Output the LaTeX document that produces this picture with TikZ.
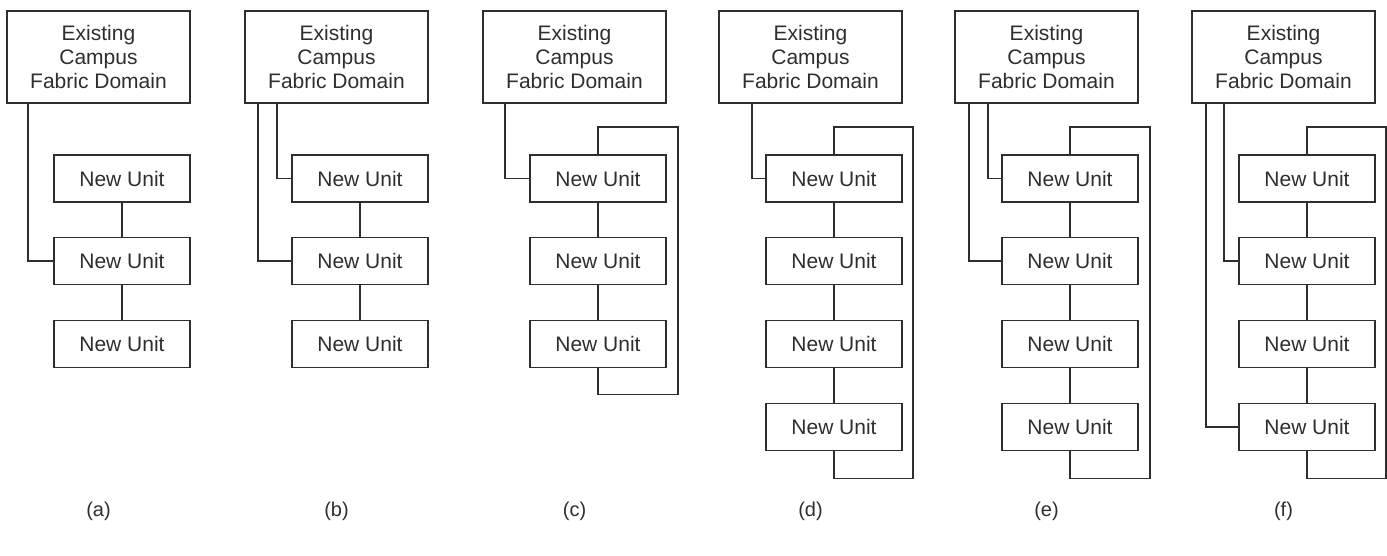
\documentclass[tikz,border=0pt]{standalone}
\usepackage{fontspec}
\setmainfont{Liberation Sans}
\usepackage{tikz}
\definecolor{ink}{HTML}{2E2E2E}

\begin{document}
\begin{tikzpicture}[x=1pt,y=-1pt,line width=1.8pt,color=ink,
  domain box/.style={rectangle,draw,minimum width=183pt,minimum height=92pt,
    inner sep=0pt,align=center,font=\fontsize{21}{23.7}\selectfont},
  unit box/.style={rectangle,draw,minimum width=136pt,minimum height=47pt,
    inner sep=0pt,font=\fontsize{21}{24}\selectfont},
  caption/.style={font=\fontsize{20}{24}\selectfont}]

  \useasboundingbox (0,0) rectangle (1387,556);

  % (a)
  \node[domain box] (Ta) at (98.5,57) {Existing\\Campus\\Fabric Domain};
  \node[unit box] (a1) at (122,178.5) {New Unit};
  \node[unit box] (a2) at (122,261) {New Unit};
  \node[unit box] (a3) at (122,344) {New Unit};
  \node[caption] (La) at (98.5,511) {(a)};
  \draw (a1) -- (a2) (a2) -- (a3);
  \draw ([xshift=21.5pt]Ta.south west) |- (a2.west);

  % (b)
  \node[domain box] (Tb) at (336.5,57) {Existing\\Campus\\Fabric Domain};
  \node[unit box] (b1) at (360,178.5) {New Unit};
  \node[unit box] (b2) at (360,261) {New Unit};
  \node[unit box] (b3) at (360,344) {New Unit};
  \node[caption] (Lb) at (336.5,511) {(b)};
  \draw (b1) -- (b2) (b2) -- (b3);
  \draw ([xshift=13.5pt]Tb.south west) |- (b2.west);
  \draw ([xshift=32.5pt]Tb.south west) |- (b1.west);

  % (c)
  \node[domain box] (Tc) at (574.5,57) {Existing\\Campus\\Fabric Domain};
  \node[unit box] (c1) at (598,178.5) {New Unit};
  \node[unit box] (c2) at (598,261) {New Unit};
  \node[unit box] (c3) at (598,344) {New Unit};
  \node[caption] (Lc) at (574.5,511) {(c)};
  \draw (c1) -- (c2) (c2) -- (c3);
  \draw ([xshift=22.5pt]Tc.south west) |- (c1.west);
  \draw (c1.north) -- ++(0,27pt) -| ([shift={(11pt,-26pt)}]c3.south east) -| (c3.south);

  % (d)
  \node[domain box] (Td) at (810.5,57) {Existing\\Campus\\Fabric Domain};
  \node[unit box] (d1) at (834,178.5) {New Unit};
  \node[unit box] (d2) at (834,261) {New Unit};
  \node[unit box] (d3) at (834,344) {New Unit};
  \node[unit box] (d4) at (834,427) {New Unit};
  \node[caption] (Ld) at (810.5,511) {(d)};
  \draw (d1) -- (d2) (d2) -- (d3) (d3) -- (d4);
  \draw ([xshift=33.5pt]Td.south west) |- (d1.west);
  \draw (d1.north) -- ++(0,27pt) -| ([shift={(10pt,-27pt)}]d4.south east) -| (d4.south);

  % (e)
  \node[domain box] (Te) at (1046.5,57) {Existing\\Campus\\Fabric Domain};
  \node[unit box] (e1) at (1070,178.5) {New Unit};
  \node[unit box] (e2) at (1070,261) {New Unit};
  \node[unit box] (e3) at (1070,344) {New Unit};
  \node[unit box] (e4) at (1070,427) {New Unit};
  \node[caption] (Le) at (1046.5,511) {(e)};
  \draw (e1) -- (e2) (e2) -- (e3) (e3) -- (e4);
  \draw ([xshift=14.5pt]Te.south west) |- (e2.west);
  \draw ([xshift=33.5pt]Te.south west) |- (e1.west);
  \draw (e1.north) -- ++(0,27pt) -| ([shift={(11pt,-27pt)}]e4.south east) -| (e4.south);

  % (f)
  \node[domain box] (Tf) at (1283.5,57) {Existing\\Campus\\Fabric Domain};
  \node[unit box] (f1) at (1307,178.5) {New Unit};
  \node[unit box] (f2) at (1307,261) {New Unit};
  \node[unit box] (f3) at (1307,344) {New Unit};
  \node[unit box] (f4) at (1307,427) {New Unit};
  \node[caption] (Lf) at (1283.5,511) {(f)};
  \draw (f1) -- (f2) (f2) -- (f3) (f3) -- (f4);
  \draw ([xshift=14.5pt]Tf.south west) |- (f4.west);
  \draw ([xshift=32.5pt]Tf.south west) |- (f2.west);
  \draw (f1.north) -- ++(0,27pt) -| ([shift={(10pt,-27pt)}]f4.south east) -| (f4.south);
\end{tikzpicture}
\end{document}
